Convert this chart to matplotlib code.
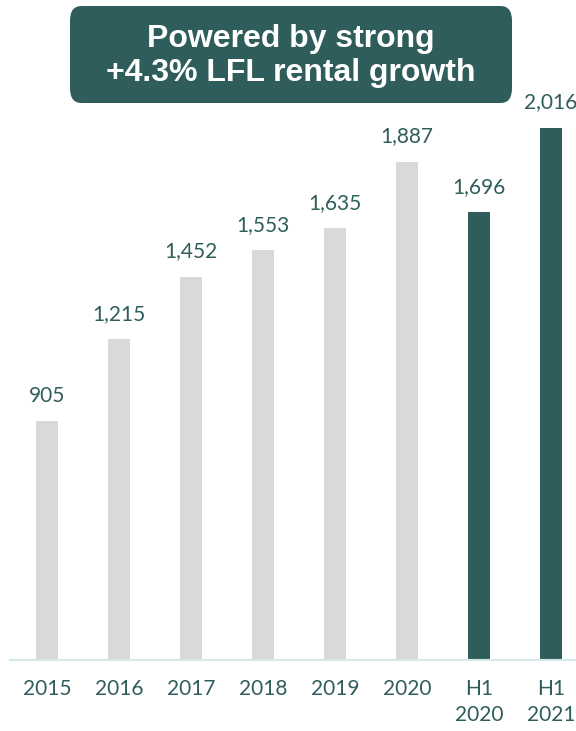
import matplotlib.pyplot as plt
from matplotlib.patches import FancyBboxPatch

# rental income by period
periods = ['2015', '2016', '2017', '2018', '2019', '2020', 'H1\n2020', 'H1\n2021']
rent = [905, 1215, 1452, 1553, 1635, 1887, 1696, 2016]
highlight = [False, False, False, False, False, False, True, True]

teal = '#2f5d5b'
grey = '#d9d9d9'

plt.rcParams['font.family'] = ['Lato', 'DejaVu Sans']

fig = plt.figure(figsize=(5.76, 7.31), dpi=100)
ax = fig.add_axes([10 / 576, 71 / 731, 566 / 576, 660 / 731])

colors = [teal if h else grey for h in highlight]
x = list(range(len(periods)))
ax.bar(x, rent, width=0.31, color=colors, zorder=2)

# value labels above each bar
for xi, v in zip(x, rent):
    ax.text(xi, v + 58, f'{v:,}', ha='center', va='bottom',
            fontsize=15, color=teal, clip_on=False)

ax.set_xlim(-0.514, 7.35)
ax.set_ylim(0, 2500)
ax.set_xticks(x)
ax.set_xticklabels(periods, fontsize=15, color=teal, linespacing=1.35, va='top')
ax.tick_params(axis='x', length=0, pad=14)
ax.set_yticks([])
for side in ['top', 'right', 'left']:
    ax.spines[side].set_visible(False)
ax.spines['bottom'].set_color('#d6e9ea')
ax.spines['bottom'].set_linewidth(1.5)
ax.patch.set_alpha(0)

# headline box
box = FancyBboxPatch((70 / 576, 1 - 103 / 731), 442 / 576, 97 / 731,
                     boxstyle='round,pad=0,rounding_size=0.02',
                     transform=fig.transFigure, facecolor=teal,
                     edgecolor='none', zorder=5)
fig.patches.append(box)
fig.text(291 / 576, 1 - 56 / 731, 'Powered by strong\n+4.3% LFL rental growth',
         ha='center', va='center', color='white', fontsize=23,
         fontweight='bold', family=['Liberation Sans', 'DejaVu Sans'],
         linespacing=1.15, zorder=6)

fig.savefig('out.png', dpi=100)
